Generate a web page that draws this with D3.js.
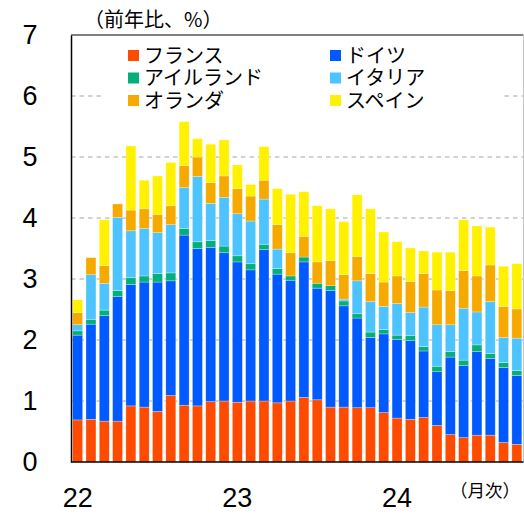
<!DOCTYPE html>
<html>
<head>
<meta charset="utf-8">
<script src="https://cdn.jsdelivr.net/npm/d3@7"></script>
<style>
  body { margin: 0; background: #fff; }
  svg { display: block; }
  text { font-family: "Liberation Sans", Arial, sans-serif; fill: #000; }
  .jp { font-family: "Noto Sans CJK JP", sans-serif; }
</style>
</head>
<body>
<svg width="524" height="516"></svg>
<script>
// 2022/1 - 2024/10, monthly
var months = d3.range(34);
var yearLabels = ["22", "23", "24"];
var yearIndex = [0, 12, 24];
var yTicks = [0, 1, 2, 3, 4, 5, 6, 7];

var countries = ["france", "germany", "ireland", "italy", "netherlands", "spain"];
var names = ["フランス", "ドイツ", "アイルランド", "イタリア", "オランダ", "スペイン"];

var france = [0.69, 0.70, 0.67, 0.67, 0.92, 0.90, 0.83, 1.09, 0.93, 0.92, 0.99, 1.00,
  0.98, 1.00, 1.00, 0.97, 1.00, 1.06, 1.02, 0.90, 0.90, 0.89, 0.89, 0.81,
  0.72, 0.70, 0.73, 0.60, 0.45, 0.40, 0.44, 0.44, 0.32, 0.29];
var germany = [1.39, 1.56, 1.73, 2.04, 1.99, 2.05, 2.12, 1.88, 2.79, 2.58, 2.53, 2.43,
  2.30, 2.15, 2.48, 2.11, 1.98, 2.22, 1.83, 1.91, 1.66, 1.47, 1.15, 1.29,
  1.29, 1.29, 1.09, 0.88, 1.27, 1.18, 1.37, 1.26, 1.23, 1.13];
var ireland = [0.07, 0.08, 0.09, 0.10, 0.11, 0.10, 0.14, 0.13, 0.11, 0.11, 0.11, 0.11,
  0.10, 0.10, 0.09, 0.09, 0.07, 0.08, 0.08, 0.08, 0.08, 0.07, 0.09, 0.07,
  0.07, 0.08, 0.07, 0.09, 0.09, 0.09, 0.11, 0.08, 0.08, 0.08];
var italy = [0.10, 0.73, 0.44, 1.20, 0.77, 0.78, 0.67, 0.79, 0.67, 1.07, 0.61, 0.80,
  0.69, 0.70, 0.74, 0.32, 0.00, 0.00, 0.00, 0.00, 0.03, 0.54, 0.50, 0.38,
  0.52, 0.38, 0.65, 0.68, 0.44, 0.85, 0.54, 0.85, 0.41, 0.53];
var netherlands = [0.20, 0.28, 0.29, 0.22, 0.34, 0.32, 0.30, 0.31, 0.36, 0.32, 0.34, 0.35,
  0.41, 0.41, 0.31, 0.40, 0.38, 0.34, 0.35, 0.41, 0.40, 0.40, 0.46, 0.40,
  0.45, 0.51, 0.55, 0.57, 0.56, 0.62, 0.59, 0.60, 0.51, 0.48];
var spain = [0.21, 0.00, 0.75, 0.00, 1.05, 0.47, 0.63, 0.71, 0.72, 0.30, 0.63, 0.59,
  0.39, 0.19, 0.55, 0.59, 0.96, 0.73, 0.92, 0.85, 0.87, 1.01, 1.06, 0.82,
  0.56, 0.55, 0.37, 0.62, 0.63, 0.83, 0.82, 0.62, 0.66, 0.74];

var colors = ["#FF4B00", "#005AFF", "#03AF7A", "#4DC4FF", "#F6AA00", "#FFF100"];

var series = [france, germany, ireland, italy, netherlands, spain];
var table = months.map(function(m) {
  var row = { m: m };
  countries.forEach(function(c, k) { row[c] = series[k][m]; });
  return row;
});

var svg = d3.select("svg");
var pLeft = 71, pRight = 523.5, pTop = 35, pBottom = 462;

var x = d3.scaleBand().domain(months).range([pLeft, pRight])
  .paddingInner(0.25).paddingOuter(0.125);
var y = d3.scaleLinear().domain([0, 7]).range([pBottom, pTop]);
var color = d3.scaleOrdinal().domain(countries).range(colors);

// grid
svg.append("g")
  .selectAll("line")
  .data(yTicks.filter(function(d) { return d > 0 && d < 7; }))
  .enter().append("line")
  .attr("x1", pLeft).attr("x2", pRight)
  .attr("y1", function(d) { return y(d); })
  .attr("y2", function(d) { return y(d); })
  .attr("stroke", "#c4c4c4")
  .attr("stroke-width", 1.5)
  .attr("stroke-dasharray", "4.5,4");

var stack = d3.stack().keys(countries);

svg.append("g")
  .selectAll("g")
  .data(stack(table))
  .enter().append("g")
  .attr("fill", function(d) { return color(d.key); })
  .selectAll("rect")
  .data(function(d) { return d; })
  .enter().append("rect")
  .attr("x", function(d) { return x(d.data.m); })
  .attr("width", x.bandwidth())
  .attr("y", function(d) { return y(d[1]); })
  .attr("height", function(d) { return y(d[0]) - y(d[1]); })
  .attr("stroke", "#fff")
  .attr("stroke-opacity", 0.45)
  .attr("stroke-width", 0.6);

// frame
svg.append("line").attr("x1", pLeft).attr("x2", pRight).attr("y1", pTop).attr("y2", pTop)
  .attr("stroke", "#000").attr("stroke-width", 1);
svg.append("line").attr("x1", pRight).attr("x2", pRight).attr("y1", pTop).attr("y2", pBottom)
  .attr("stroke", "#c4c4c4").attr("stroke-width", 1);

var yAxis = d3.axisLeft(y).tickValues(yTicks).tickSize(0).tickPadding(0)
  .tickFormat(d3.format("d"));
var gy = svg.append("g").attr("transform", "translate(" + pLeft + ",0)").call(yAxis);
gy.select(".domain").attr("stroke", "#000").attr("stroke-width", 1.5);
gy.selectAll("text")
  .attr("x", -41).attr("text-anchor", "middle")
  .style("font-size", "27px")
  .style("font-family", "Liberation Sans, Arial, sans-serif");

svg.append("line").attr("x1", pLeft).attr("x2", pRight).attr("y1", pBottom).attr("y2", pBottom)
  .attr("stroke", "#000").attr("stroke-width", 1.5);

// year labels
svg.append("g")
  .selectAll("text")
  .data(yearLabels)
  .enter().append("text")
  .attr("x", function(d, i) { return x(yearIndex[i]) + x.bandwidth() / 2; })
  .attr("y", 507)
  .attr("text-anchor", "middle")
  .style("font-size", "27px")
  .text(function(d) { return d; });

svg.append("text").attr("class", "jp")
  .attr("x", 450).attr("y", 497)
  .style("font-size", "17.5px")
  .text("（月次）");

svg.append("text").attr("class", "jp")
  .attr("x", 84).attr("y", 27)
  .style("font-size", "20px")
  .text("（前年比、%）");

// legend
var legend = svg.append("g");
legend.append("rect")
  .attr("x", 101).attr("y", 38).attr("width", 402).attr("height", 75)
  .attr("fill", "#fff");
var items = legend.selectAll("g")
  .data(countries)
  .enter().append("g")
  .attr("transform", function(d, i) {
    return "translate(" + (i % 2 === 0 ? 128 : 330) + "," + (50 + Math.floor(i / 2) * 22.5) + ")";
  });
items.append("rect")
  .attr("width", 11).attr("height", 11)
  .attr("fill", function(d) { return color(d); });
items.append("text").attr("class", "jp")
  .attr("x", 16).attr("y", 5.5)
  .attr("dy", "0.36em")
  .style("font-size", "20px")
  .text(function(d, i) { return names[i]; });
</script>
</body>
</html>
